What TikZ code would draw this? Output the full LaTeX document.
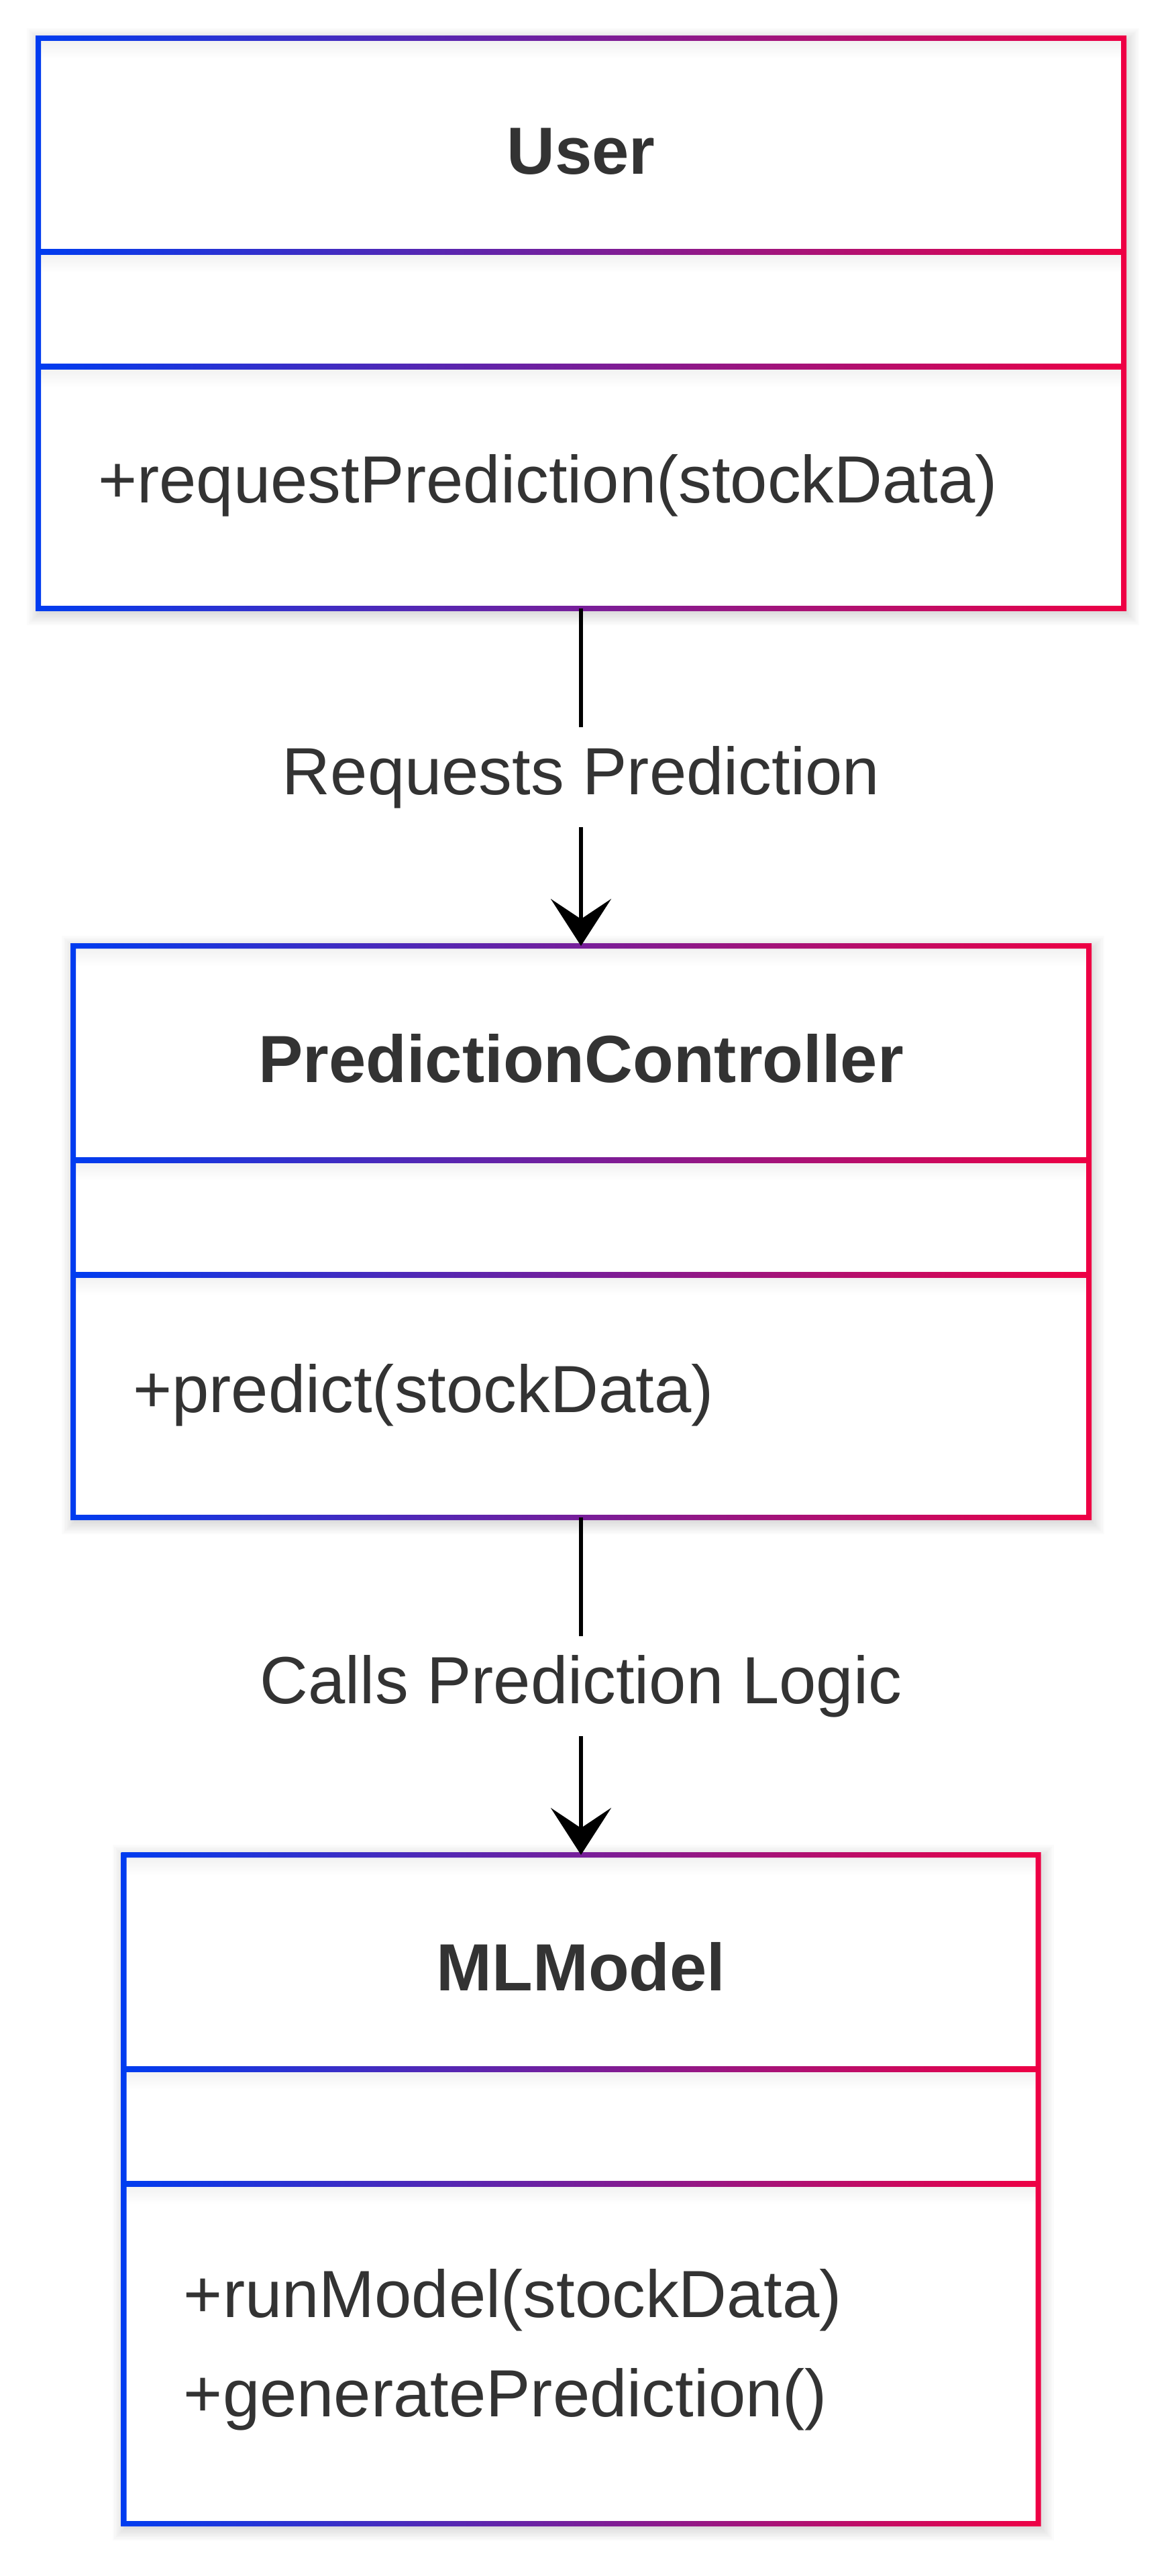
\documentclass[tikz,border=0pt]{standalone}
\usepackage{fontspec}
\setmainfont{Liberation Sans}
\usetikzlibrary{arrows.meta,positioning,calc}

\definecolor{umlblue}{RGB}{0,60,240}
\definecolor{umlred}{RGB}{238,0,68}
\definecolor{umltext}{RGB}{51,51,51}

\begin{document}
\begin{tikzpicture}[
      every node/.style={font=\fontsize{28.3}{34}\selectfont, text=umltext},
      classbox/.style={rectangle, minimum height=8.5cm, inner sep=0pt, outer sep=0pt},
      title/.style={font=\fontsize{28.3}{34}\selectfont\bfseries, anchor=base},
      member/.style={anchor=base west},
      arr/.style={-{Stealth[length=0.7cm,width=0.9cm,inset=0.3cm]}, line width=0.055cm},
      lbl/.style={fill=white, inner ysep=0.28cm}
    ]
      \useasboundingbox (0,0) rectangle (17.4,-38.4);

      % class boxes
      \node[classbox, minimum width=16.18cm] (user) at (8.66,-4.82) {};
      \node[classbox, minimum width=15.14cm, minimum height=8.52cm, below=5.03cm of user] (ctrl) {};
      \node[classbox, minimum width=13.63cm, minimum height=9.97cm, below=5.03cm of ctrl] (model) {};

      % shadow, fill, gradient frame and compartments
      \foreach \b in {user,ctrl,model} {
        \foreach \s in {1,...,8}
          \fill[black, opacity=0.015] ($(\b.south west)+(0.03-\s*0.025,-0.05-\s*0.025)$) rectangle ($(\b.north east)+(0.03+\s*0.025,-0.05+\s*0.025)$);
        \fill[white] (\b.south west) rectangle (\b.north east);
        \foreach \y in {0,3.19,4.90}
          \shade[top color=black!6, bottom color=white] ($(\b.north west)+(0,-\y)$) rectangle ($(\b.north east)+(0,-\y-0.3)$);
        \shade[left color=umlblue, right color=umlred, even odd rule]
          ($(\b.south west)+(-0.04,-0.04)$) rectangle ($(\b.north east)+(0.04,0.04)$)
          ($(\b.south west)+(0.04,0.04)$) rectangle ($(\b.north east)+(-0.04,-0.04)$);
        \foreach \y in {3.19,4.90}
          \shade[left color=umlblue, right color=umlred] ($(\b.north west)+(0,-\y+0.04)$) rectangle ($(\b.north east)+(0,-\y-0.04)$);
      }

      % names and members
      \node[title] (usertitle) at ($(user.north)+(0,-2.03)$) {User};
      \node[member] (usermeth) at ($(user.north west)+(0.77,-6.92)$) {+requestPrediction(stockData)};
      \node[title] (ctrltitle) at ($(ctrl.north)+(0,-2.03)$) {PredictionController};
      \node[member] (ctrlmeth) at ($(ctrl.north west)+(0.77,-6.95)$) {+predict(stockData)};
      \node[title] (modeltitle) at ($(model.north)+(0,-2.02)$) {MLModel};
      \node[member] (modelrun) at ($(model.north west)+(0.77,-6.89)$) {+runModel(stockData)};
      \node[member] (modelgen) at ($(model.north west)+(0.77,-8.37)$) {+generatePrediction()};

      % relations
      \draw[arr] (user) -- (ctrl) node[midway, lbl] (reqlabel) {Requests Prediction};
      \draw[arr] (ctrl) -- (model) node[midway, lbl] (calllabel) {Calls Prediction Logic};
    \end{tikzpicture}
\end{document}
